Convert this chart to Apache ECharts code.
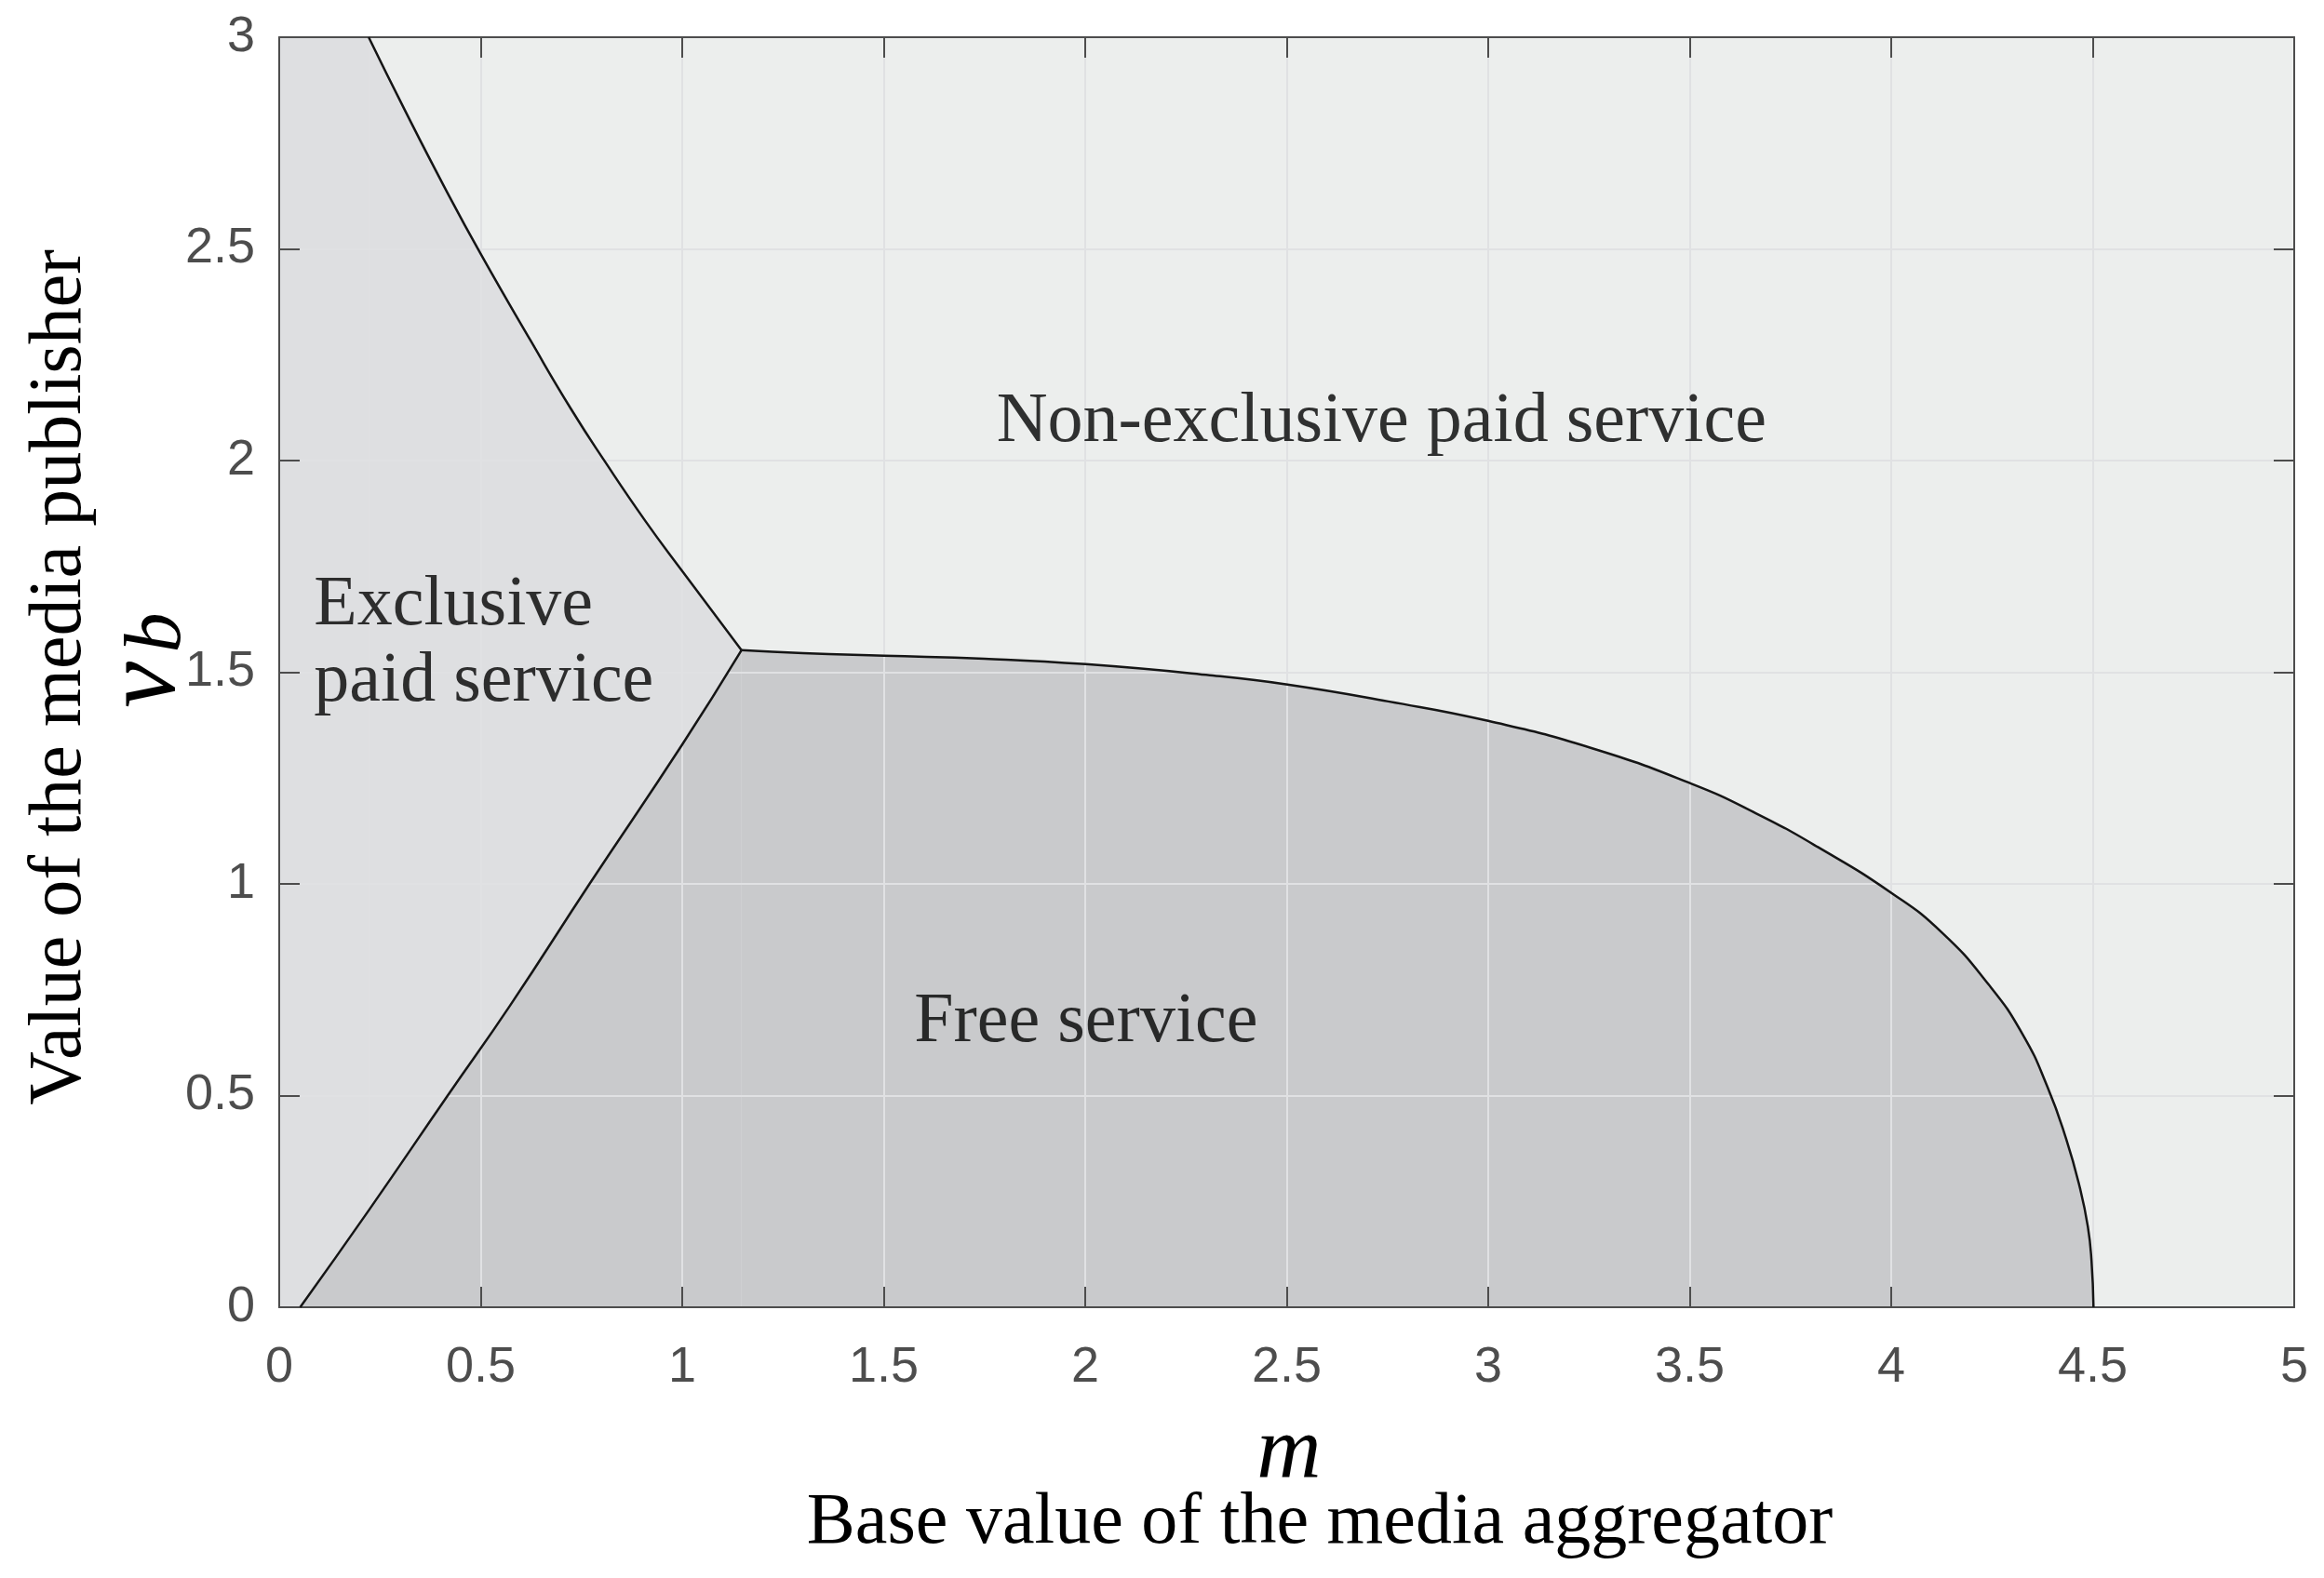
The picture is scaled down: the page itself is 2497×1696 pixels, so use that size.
<!DOCTYPE html>
<html>
<head>
<meta charset="utf-8">
<title>Regions of service</title>
<script src="https://cdn.jsdelivr.net/npm/echarts@6/dist/echarts.min.js"></script>
<style>
  html, body { margin: 0; padding: 0; background: #ffffff; }
  #chart { width: 2497px; height: 1696px; }
</style>
</head>
<body>
<div id="chart"></div>
<script>
// boundary between exclusive and non-exclusive paid service
var upperLeftM = [0.222, 0.310, 0.410, 0.500, 0.624, 0.724, 0.808, 0.908, 1.000, 1.147];
var upperLeftV = [3.000, 2.831, 2.646, 2.488, 2.283, 2.122, 1.998, 1.858, 1.739, 1.552];

// boundary between exclusive paid service and free service
var lowerLeftM = [0.052, 0.223, 0.418, 0.573, 0.770, 1.000, 1.147];
var lowerLeftV = [0.000, 0.230, 0.500, 0.713, 1.000, 1.329, 1.552];

// boundary between free service and non-exclusive paid service
var freeTopM = [1.147, 1.300, 1.501, 1.750, 2.001, 2.309, 2.502, 2.752, 3.000, 3.256, 3.503, 3.664,
                3.818, 4.003, 4.126, 4.242, 4.326, 4.388, 4.434, 4.468, 4.488, 4.497, 4.502];
var freeTopV = [1.552, 1.545, 1.539, 1.532, 1.519, 1.493, 1.471, 1.431, 1.385, 1.321, 1.237, 1.167,
                1.087, 0.977, 0.885, 0.762, 0.645, 0.520, 0.398, 0.283, 0.190, 0.110, 0.000];

// region names and where they are written
var regionNames = ['Non-exclusive paid service', 'Exclusive\npaid service', 'Free service'];
var regionM = [2.735, 0.085, 2.002];
var regionV = [2.090, 1.567, 0.673];

var xTicks = [0, 5, 0.5];   // min, max, step
var yTicks = [0, 3, 0.5];

function pairs(xs, ys) {
    var out = [];
    for (var i = 0; i < xs.length; i++) {
        out.push([xs[i], ys[i]]);
    }
    return out;
}

var axisColor = '#4d4d4d';
var gridColor = '#e0e1e3';
var exclColor = '#dedfe1';
var freeColor = '#c9cacc';
var smoothness = 0.5;
var serif = '"Liberation Serif", "Times New Roman", serif';
var sans = '"Liberation Sans", Arial, Helvetica, sans-serif';

var labelData = [];
for (var i = 0; i < regionNames.length; i++) {
    var item = { name: regionNames[i], value: [regionM[i], regionV[i]] };
    if (i === 1) {
        item.label = { position: 'right', distance: 0, align: 'left', lineHeight: 82 };
    }
    labelData.push(item);
}

var chart = echarts.init(document.getElementById('chart'));

// filled piece of a region: area under the given boundary, down to v = 0
function fill(data, color, z, smooth) {
    return {
        type: 'line', data: data, symbol: 'none', z: z, silent: true,
        smooth: smooth,
        lineStyle: { width: 0 },
        areaStyle: { color: color, opacity: 1 }
    };
}

// black boundary curve
function boundary(data) {
    return {
        type: 'line', data: data, symbol: 'none', z: 5, silent: true,
        smooth: smoothness,
        lineStyle: { color: '#151515', width: 2.5 }
    };
}

function axisBase(pos, showLabel, margin, split) {
    return {
        type: 'value', position: pos, z: 3,
        axisLine: { show: true, onZero: false, lineStyle: { color: axisColor, width: 2 } },
        axisTick: { show: true, inside: true, length: 22, lineStyle: { color: axisColor, width: 2 } },
        axisLabel: { show: showLabel, color: axisColor, fontSize: 54, fontFamily: sans, margin: margin },
        splitLine: { show: split, lineStyle: { color: gridColor, width: 2 } }
    };
}

var xBottom = axisBase('bottom', true, 38, true);
var xTop = axisBase('top', false, 0, false);
var yLeft = axisBase('left', true, 26, true);
var yRight = axisBase('right', false, 0, false);
[xBottom, xTop].forEach(function (a) { a.min = xTicks[0]; a.max = xTicks[1]; a.interval = xTicks[2]; });
[yLeft, yRight].forEach(function (a) { a.min = yTicks[0]; a.max = yTicks[1]; a.interval = yTicks[2]; });

var option = {
    animation: false,
    backgroundColor: '#ffffff',
    grid: {
        left: 300, right: 32, top: 40, bottom: 291,
        show: true, backgroundColor: '#eceeed', borderWidth: 0
    },
    xAxis: [xBottom, xTop],
    yAxis: [yLeft, yRight],
    series: [
        // exclusive paid service: flat part along the top edge, then under the upper-left curve
        fill([[xTicks[0], yTicks[1]], [upperLeftM[0], upperLeftV[0]]], exclColor, 1, false),
        fill(pairs(upperLeftM, upperLeftV), exclColor, 1, smoothness),
        // free service: under the lower-left line, then under the big curve
        fill(pairs(lowerLeftM, lowerLeftV), freeColor, 2, smoothness),
        fill(pairs(freeTopM, freeTopV), freeColor, 2, smoothness),
        boundary(pairs(upperLeftM, upperLeftV)),
        boundary(pairs(lowerLeftM, lowerLeftV)),
        boundary(pairs(freeTopM, freeTopV)),
        {
            type: 'scatter', data: labelData, symbolSize: 1, z: 6, silent: true,
            itemStyle: { color: 'rgba(0,0,0,0)' },
            label: {
                show: true, position: 'inside', formatter: '{b}',
                color: '#000000', fontFamily: serif, fontSize: 76
            }
        }
    ],
    graphic: [
        // y axis title, two lines: words and the symbol v_b
        {
            type: 'text', x: 65, y: 728, rotation: Math.PI / 2,
            style: { text: 'Value of the media publisher', fill: '#000', fontFamily: serif, fontSize: 80,
                     textAlign: 'center', textVerticalAlign: 'middle' }
        },
        {
            type: 'text', x: 158, y: 736, rotation: Math.PI / 2,
            style: { text: 'v', fill: '#000', fontFamily: serif, fontStyle: 'italic', fontSize: 112,
                     textAlign: 'center', textVerticalAlign: 'middle' }
        },
        {
            type: 'text', x: 170, y: 680, rotation: Math.PI / 2,
            style: { text: 'b', fill: '#000', fontFamily: serif, fontStyle: 'italic', fontSize: 86,
                     textAlign: 'center', textVerticalAlign: 'middle' }
        },
        // x axis title
        {
            type: 'text', x: 1385, y: 1563,
            style: { text: 'm', fill: '#000', fontFamily: serif, fontStyle: 'italic', fontSize: 96,
                     textAlign: 'center', textVerticalAlign: 'middle' }
        },
        {
            type: 'text', x: 1418, y: 1638,
            style: { text: 'Base value of the media aggregator', fill: '#000', fontFamily: serif, fontSize: 78,
                     textAlign: 'center', textVerticalAlign: 'middle' }
        }
    ]
};

chart.setOption(option);
</script>
</body>
</html>
